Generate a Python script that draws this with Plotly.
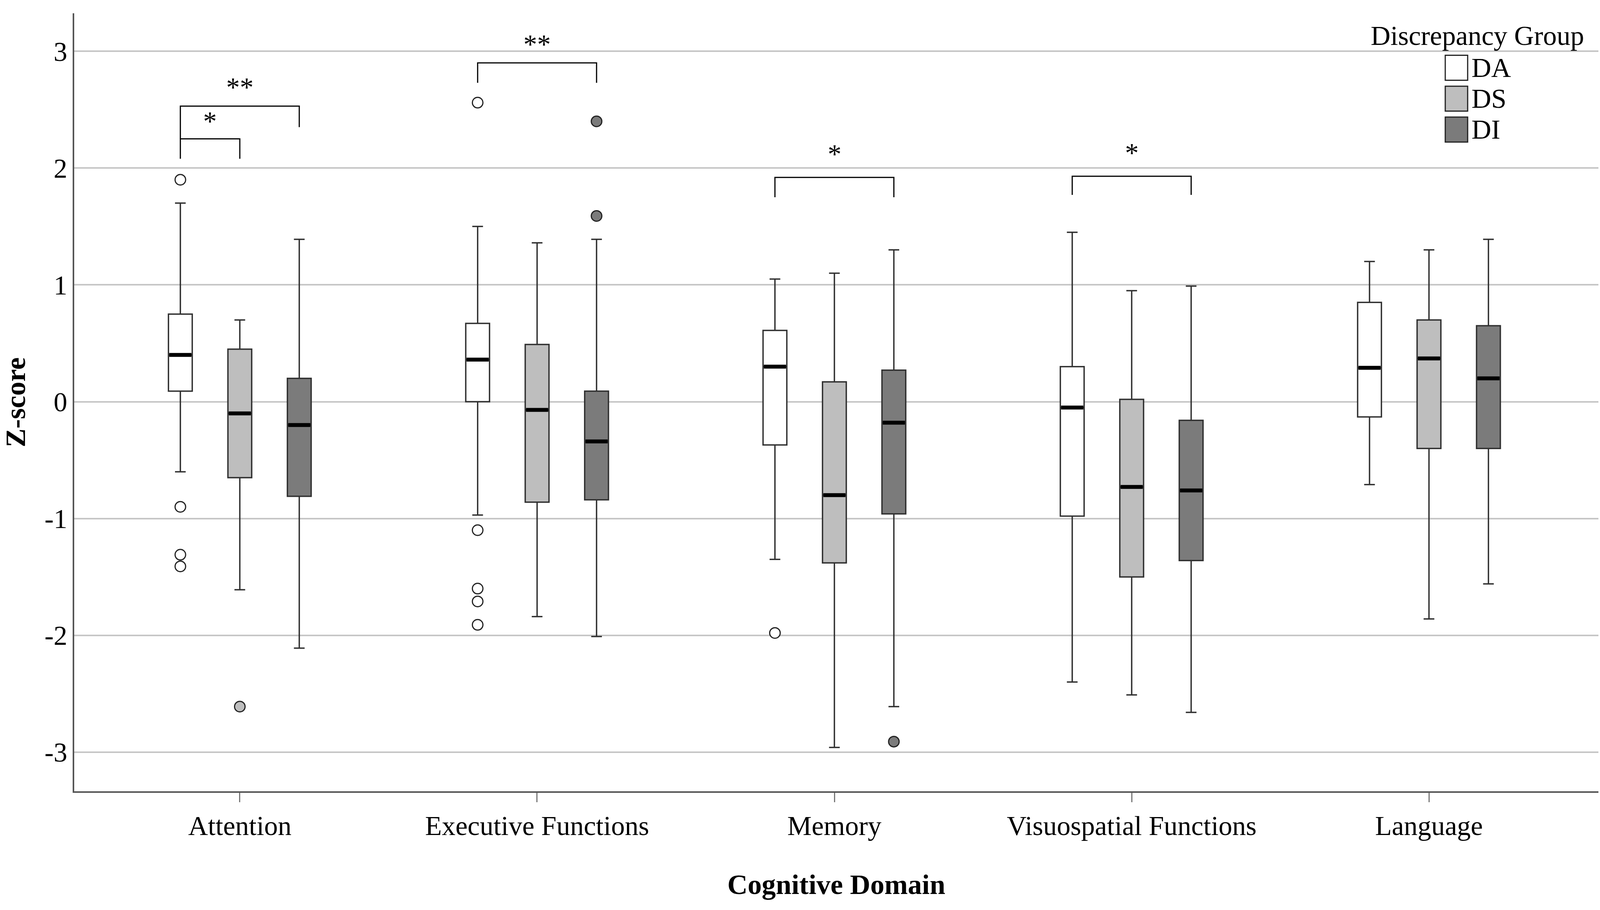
import plotly.graph_objects as go

# cognitive domains and discrepancy groups
domains = ["Attention", "Executive Functions", "Memory", "Visuospatial Functions", "Language"]
groups = ["DA", "DS", "DI"]

# box statistics (Z-scores)
da_hi = [1.70, 1.50, 1.05, 1.45, 1.20]
da_q3 = [0.75, 0.67, 0.61, 0.30, 0.85]
da_med = [0.40, 0.36, 0.30, -0.05, 0.29]
da_q1 = [0.09, 0.00, -0.37, -0.98, -0.13]
da_lo = [-0.60, -0.97, -1.35, -2.40, -0.71]

ds_hi = [0.70, 1.36, 1.10, 0.95, 1.30]
ds_q3 = [0.45, 0.49, 0.17, 0.02, 0.70]
ds_med = [-0.10, -0.07, -0.80, -0.73, 0.37]
ds_q1 = [-0.65, -0.86, -1.38, -1.50, -0.40]
ds_lo = [-1.61, -1.84, -2.96, -2.51, -1.86]

di_hi = [1.39, 1.39, 1.30, 0.99, 1.39]
di_q3 = [0.20, 0.09, 0.27, -0.16, 0.65]
di_med = [-0.20, -0.34, -0.18, -0.76, 0.20]
di_q1 = [-0.81, -0.84, -0.96, -1.36, -0.40]
di_lo = [-2.11, -2.01, -2.61, -2.66, -1.56]

# outliers (domain, value)
da_out = [("Attention", 1.90), ("Attention", -0.90), ("Attention", -1.31), ("Attention", -1.41),
          ("Executive Functions", 2.56), ("Executive Functions", -1.10), ("Executive Functions", -1.60),
          ("Executive Functions", -1.71), ("Executive Functions", -1.91), ("Memory", -1.98)]
ds_out = [("Attention", -2.61)]
di_out = [("Executive Functions", 2.40), ("Executive Functions", 1.59), ("Memory", -2.91)]

# significance brackets: domain, from group, to group, top, left leg end, right leg end, label, label y
brackets = [
    ("Attention", 0, 1, 2.25, 2.08, 2.08, "*", 2.40),
    ("Attention", 0, 2, 2.53, 2.25, 2.35, "**", 2.69),
    ("Executive Functions", 0, 2, 2.90, 2.73, 2.73, "**", 3.06),
    ("Memory", 0, 2, 1.92, 1.75, 1.75, "*", 2.12),
    ("Visuospatial Functions", 0, 2, 1.93, 1.77, 1.77, "*", 2.13),
]

ytick_vals = [-3, -2, -1, 0, 1, 2, 3]
ytick_text = ["-3", "-2", "-1", "0", "1", "2", "3"]

fills = ["#ffffff", "#bebebe", "#7b7b7b"]
edge = "#303030"
font = "Liberation Serif"
offsets = [-0.2, 0.0, 0.2]
box_w = 0.08
px_per_unit = 761.0

stats = [
    (da_q1, da_med, da_q3, da_lo, da_hi, da_out),
    (ds_q1, ds_med, ds_q3, ds_lo, ds_hi, ds_out),
    (di_q1, di_med, di_q3, di_lo, di_hi, di_out),
]

fig = go.Figure()

for k, (q1, med, q3, lo, hi, outs) in enumerate(stats):
    pos = [i + offsets[k] for i in range(len(domains))]
    fig.add_trace(go.Box(
        x=pos, q1=q1, median=med, q3=q3, lowerfence=lo, upperfence=hi,
        width=box_w, fillcolor=fills[k], line=dict(color=edge, width=3.5),
        whiskerwidth=0.45, boxpoints=False, name=groups[k], showlegend=False,
    ))
    # thick median line
    mx, my = [], []
    half = box_w / 2 - 2 / px_per_unit
    for p, m in zip(pos, med):
        mx += [p - half, p + half, None]
        my += [m, m, None]
    fig.add_trace(go.Scatter(x=mx, y=my, mode="lines", line=dict(color="black", width=10),
                             showlegend=False, hoverinfo="skip"))
    # outliers
    fig.add_trace(go.Scatter(
        x=[domains.index(d) + offsets[k] for d, v in outs], y=[v for d, v in outs],
        mode="markers", showlegend=False,
        marker=dict(size=27, color=fills[k], line=dict(color="#222222", width=3)),
    ))

# brackets
for d, g1, g2, top, yl, yr, lab, ly in brackets:
    x1 = domains.index(d) + offsets[g1]
    x2 = domains.index(d) + offsets[g2]
    fig.add_shape(type="path", xref="x", yref="y",
                  path=f"M {x1},{yl} L {x1},{top} L {x2},{top} L {x2},{yr}",
                  line=dict(color="black", width=3))
    fig.add_annotation(x=(x1 + x2) / 2, y=ly, xref="x", yref="y", text=lab, showarrow=False,
                       xanchor="center", yanchor="middle",
                       font=dict(family=font, size=70, color="black"))

# legend drawn by hand so the swatches can be large
leg_x = 0.8995
leg_top = 0.946
sw_w = 0.0147
sw_h = 0.0321
step = 0.0397
fig.add_annotation(x=0.9205, y=0.971, xref="paper", yref="paper", text="Discrepancy Group",
                   showarrow=False, xanchor="center", yanchor="middle",
                   font=dict(family=font, size=70, color="black"))
for k, g in enumerate(groups):
    y1 = leg_top - k * step
    fig.add_shape(type="rect", xref="paper", yref="paper", x0=leg_x, x1=leg_x + sw_w,
                  y0=y1 - sw_h, y1=y1, fillcolor=fills[k], line=dict(color="#222222", width=3))
    fig.add_annotation(x=leg_x + sw_w + 0.002, y=y1 - sw_h / 2, xref="paper", yref="paper",
                       text=g, showarrow=False, xanchor="left", yanchor="middle",
                       font=dict(family=font, size=70, color="black"))

fig.update_layout(
    width=4096, height=2330, autosize=False,
    margin=dict(l=190, r=4, t=34, b=304),
    plot_bgcolor="white", paper_bgcolor="white",
    font=dict(family=font, size=70, color="black"),
)
fig.update_xaxes(
    range=[-0.557, 4.57], tickvals=list(range(len(domains))), ticktext=domains,
    showgrid=False, zeroline=False, showline=True, linecolor="#555555", linewidth=4,
    ticks="outside", ticklen=24, tickwidth=3, tickcolor="#777777",
    title=dict(text="<b>Cognitive Domain</b>", font=dict(family=font, size=72), standoff=88),
)
fig.update_yaxes(
    range=[-3.335, 3.325], tickvals=ytick_vals, ticktext=ytick_text,
    showgrid=True, gridcolor="#c6c6c6", gridwidth=4, zeroline=False,
    showline=True, linecolor="#555555", linewidth=3.5, ticks="",
    title=dict(text="<b>Z-score</b>", font=dict(family=font, size=72), standoff=27),
)

fig.write_html("out.html", config={"displayModeBar": False},
               post_script="document.body.style.margin='0';")
